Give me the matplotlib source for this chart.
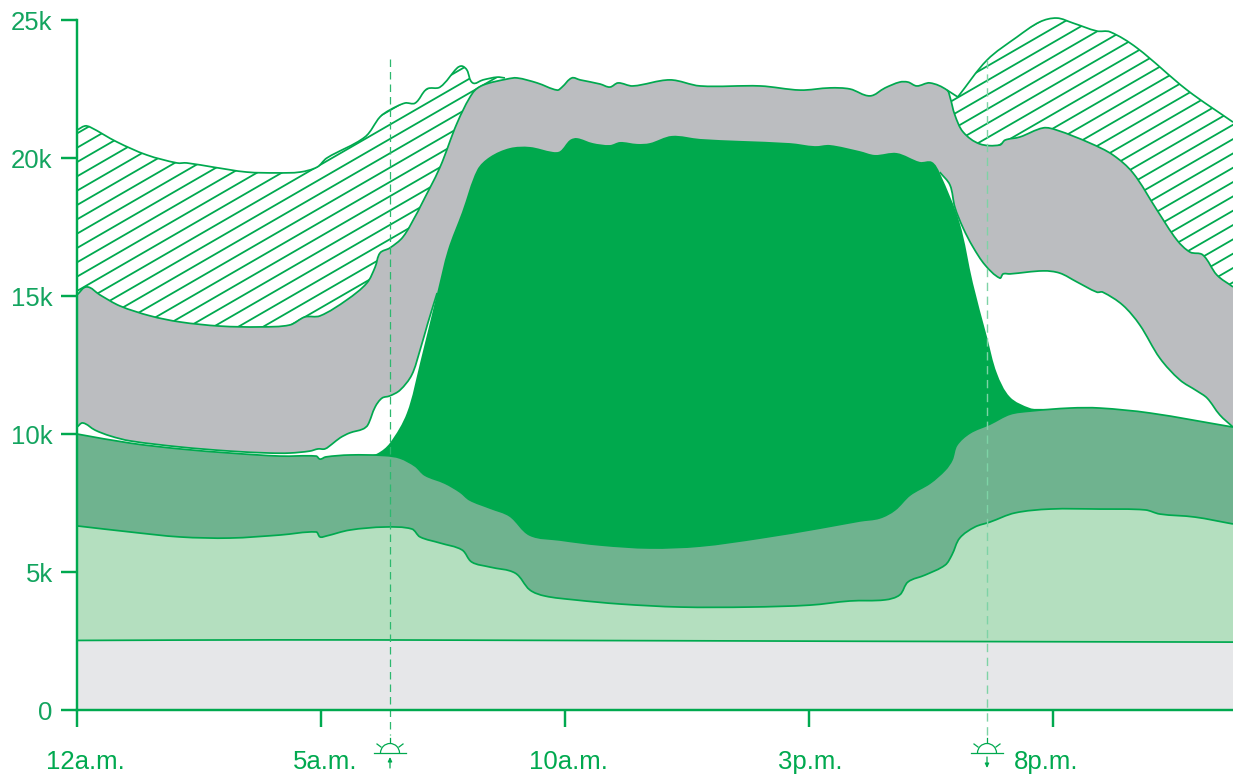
from matplotlib import pyplot as plt
from matplotlib.patches import Arc, PathPatch
from matplotlib.path import Path
from matplotlib.transforms import ScaledTranslation
import numpy as np

GREEN = "#00A94F"
TEXT_GREEN = "#13A45F"

# hours since midnight, thousands
base_h = [0, 4, 8, 16, 23.69]
base_v = [2.52, 2.54, 2.53, 2.49, 2.46]

a_h = [0, 1.09, 2.11, 3.14, 4.16, 4.90, 4.98, 5.10, 5.59, 6.31, 6.86, 7.03, 7.44, 7.89, 8.09, 8.46, 8.98, 9.28, 9.59,
       10.2, 11.13, 12.36, 13.79, 15.02, 15.84, 16.56, 16.86, 17.03, 17.38, 17.79, 17.93, 18.09, 18.40, 18.71, 19.22,
       19.94, 20.96, 21.89, 22.19, 22.91, 23.69]
a_v = [6.67, 6.45, 6.27, 6.23, 6.34, 6.45, 6.27, 6.30, 6.52, 6.63, 6.56, 6.27, 6.05, 5.80, 5.36, 5.18, 4.96, 4.35, 4.13,
       3.99, 3.84, 3.73, 3.73, 3.80, 3.95, 3.99, 4.17, 4.64, 4.89, 5.25, 5.62, 6.23, 6.63, 6.81, 7.14,
       7.28, 7.28, 7.25, 7.10, 6.99, 6.74]

b_h = [0, 1.09, 2.11, 3.14, 4.16, 4.90, 4.98, 5.10, 5.59, 6.31, 6.62, 6.93, 7.13, 7.54, 7.85, 8.05, 8.46, 8.87, 9.28,
       9.90, 10.72, 11.74, 12.77, 14.0, 15.23, 16.04, 16.45, 16.76, 17.07, 17.48, 17.79, 17.93, 18.03, 18.30, 18.71,
       19.12, 19.53, 20.35, 20.96, 21.99, 23.69]
b_v = [10.0, 9.67, 9.46, 9.31, 9.2, 9.2, 9.09, 9.17, 9.24, 9.22, 9.13, 8.84, 8.51, 8.22, 7.90, 7.61, 7.32, 7.03, 6.34,
       6.16, 5.98, 5.87, 5.94, 6.23, 6.59, 6.85, 6.96, 7.25, 7.79, 8.22, 8.70, 9.06, 9.60, 10.04, 10.36,
       10.72, 10.83, 10.94, 10.94, 10.76, 10.25]

solar_h = [5.9, 6.15, 6.41, 6.76, 7.03, 7.38, 7.60, 7.89, 8.20, 8.46, 8.87, 9.28, 9.75, 9.90, 10.10, 10.25, 10.57, 10.92,
           11.13, 11.48, 11.74, 12.19, 12.77, 13.59, 14.61, 15.12, 15.43, 16.04, 16.35, 16.80, 17.27, 17.52, 17.68,
           18.09, 18.36, 18.65, 18.85, 19.12, 19.53, 19.77, 20.2]
solar_v = [9.2, 9.29, 9.67, 10.76, 12.57, 15.11, 16.67, 18.04, 19.57, 20.04, 20.36, 20.40, 20.22, 20.25, 20.65, 20.72,
           20.54, 20.47, 20.58, 20.51, 20.54, 20.80, 20.69, 20.62, 20.54, 20.43, 20.47, 20.25, 20.11, 20.18, 19.86,
           19.86, 19.46, 17.64, 15.47, 13.51, 12.21, 11.34, 10.94, 10.91, 10.9]

low_left_h = [0, 0.12, 0.37, 0.68, 1.09, 2.11, 3.14, 3.95, 4.36, 4.77, 4.94, 5.08, 5.23, 5.39, 5.59, 5.86, 5.96, 6.11,
              6.25, 6.41, 6.62, 6.86, 7.03, 7.19, 7.38]
low_left_v = [10.25, 10.40, 10.14, 9.93, 9.75, 9.53, 9.38, 9.31, 9.31, 9.38, 9.46, 9.46, 9.64, 9.86, 10.04, 10.18,
              10.33, 10.98, 11.30, 11.38, 11.59, 12.14, 13.04, 14.02, 15.11]

low_right_h = [17.68, 17.89, 17.99, 18.16, 18.36, 18.61, 18.91, 18.98, 19.12, 19.80, 20.14, 20.49, 20.90, 21.02, 21.43,
               21.78, 22.19, 22.60, 22.95, 23.16, 23.42, 23.69]
low_right_v = [19.49, 19.02, 18.22, 17.46, 16.78, 16.12, 15.65, 15.80, 15.80, 15.91, 15.83, 15.51, 15.14, 15.14, 14.67,
               13.95, 12.75, 11.96, 11.56, 11.30, 10.69, 10.25]

top_h = [0, 0.20, 0.47, 0.88, 1.50, 2.11, 2.93, 3.75, 4.36, 4.67, 4.98, 5.53, 5.94, 6.11, 6.21, 6.41, 6.68, 6.97, 7.03,
         7.44, 7.79, 8.11, 8.32, 8.81, 9.02, 9.43, 9.84, 9.94, 10.14, 10.31, 10.72, 10.92, 11.09, 11.39, 12.15, 12.77,
         14.0, 14.82, 15.43, 15.84, 16.25, 16.56, 16.86, 17.03, 17.21, 17.48, 17.83, 17.89, 17.99, 18.16, 18.50, 18.91,
         19.02, 19.32, 19.80, 20.08, 20.76, 21.23, 21.64, 22.13, 22.54, 22.81, 23.07, 23.36, 23.69]
top_v = [15.04, 15.33, 15.04, 14.64, 14.28, 14.06, 13.91, 13.88, 13.95, 14.24, 14.28, 14.86, 15.47, 16.05, 16.56, 16.74,
         17.14, 18.01, 18.22, 19.67, 21.27, 22.36, 22.64, 22.86, 22.90, 22.72, 22.46, 22.57, 22.90, 22.83, 22.68, 22.57,
         22.72, 22.61, 22.83, 22.61, 22.61, 22.46, 22.54, 22.50, 22.25, 22.54, 22.75, 22.75, 22.61, 22.72, 22.46, 22.21,
         21.56, 20.94, 20.51, 20.47, 20.65, 20.76, 21.09, 21.01, 20.54, 20.11, 19.46, 18.12, 17.03, 16.59, 16.49, 15.76,
         15.33]

peak_left_h = [0, 0.16, 0.27, 0.82, 1.43, 2.05, 2.25, 2.79, 3.48, 4.10, 4.57, 4.92, 5.12, 5.90, 6.21, 6.41, 6.72, 6.93,
               7.17, 7.44, 7.79, 7.89, 7.99, 8.11, 8.32, 8.61, 8.77]
peak_left_v = [21.01, 21.16, 21.12, 20.58, 20.11, 19.82, 19.82, 19.67, 19.49, 19.46, 19.49, 19.67, 20.0, 20.76, 21.49,
               21.74, 21.99, 21.99, 22.5, 22.57, 23.26, 23.33, 23.19, 22.72, 22.83, 22.93, 22.90]

# 18.05 twice: the curve turns sharply there
peak_right_h = [17.83, 18.05, 18.05, 18.65, 19.26, 19.73, 20.08, 20.41, 20.90, 21.17, 21.72, 22.75, 23.69]
peak_right_v = [22.46, 22.21, 22.21, 23.55, 24.38, 24.93, 25.07, 24.89, 24.6, 24.57, 23.99, 22.46, 21.3]

tick_hours = [0, 5, 10, 15, 20]
tick_names = ["12a.m.", "5a.m.", "10a.m.", "3p.m.", "8p.m."]
y_ticks = [0, 5, 10, 15, 20, 25]
y_names = ["0", "5k", "10k", "15k", "20k", "25k"]
sunrise = 6.41
sunset = 18.65

plt.rcParams["font.family"] = ["Liberation Sans", "DejaVu Sans"]

fig = plt.figure(figsize=(12.33, 7.77), dpi=100)
ax = fig.add_axes([77 / 1233, 67 / 777, 1156 / 1233, 690 / 777])
ax.set_xlim(0, 23.69)
ax.set_ylim(0, 25)


def segments(h, v):
    # bezier pieces through the read points, tangents scaled in screen-like units
    p = np.column_stack([np.asarray(h, float) * 48.8, np.asarray(v, float) * 27.6])
    t = np.zeros_like(p)
    t[1:-1] = p[2:] - p[:-2]
    t[0] = p[1] - p[0]
    t[-1] = p[-1] - p[-2]
    # a repeated point is a corner: each side keeps its own direction
    for i in range(1, len(p) - 1):
        if np.all(p[i] == p[i + 1]):
            t[i] = p[i] - p[i - 1]
        elif np.all(p[i] == p[i - 1]):
            t[i] = p[i + 1] - p[i]
    t = t / np.linalg.norm(t, axis=1, keepdims=True)
    verts = []
    for i in range(len(p) - 1):
        d = np.linalg.norm(p[i + 1] - p[i]) / 3
        verts += [p[i] + t[i] * d, p[i + 1] - t[i + 1] * d, p[i + 1]]
    verts = np.array(verts) / [48.8, 27.6]
    return p[0] / [48.8, 27.6], verts


def curve_path(h, v):
    start, verts = segments(h, v)
    return Path(np.vstack([start, verts]), [Path.MOVETO] + [Path.CURVE4] * len(verts))


def ring_path(*curves):
    # closed outline made of several curves in a row
    all_verts, codes = [], []
    for i, (h, v) in enumerate(curves):
        start, verts = segments(h, v)
        all_verts += [start] + list(verts)
        codes += [Path.MOVETO if i == 0 else Path.LINETO] + [Path.CURVE4] * len(verts)
    all_verts.append(all_verts[0])
    codes.append(Path.CLOSEPOLY)
    return Path(np.array(all_verts), codes)


def area(h, v, color, z):
    # everything from the curve down to the axis, later layers paint over it
    floor = ([h[-1], h[0]], [0, 0])
    ax.add_patch(PathPatch(ring_path((h, v), floor), facecolor=color, lw=0, zorder=z))


top_h_arr = np.array(top_h)
top_v_arr = np.array(top_v)

# hatched parts between the top curve and the peaks
for h, v, mask in [(peak_left_h, peak_left_v, top_h_arr <= peak_left_h[-1]),
                   (peak_right_h, peak_right_v, top_h_arr >= peak_right_h[0])]:
    poly = PathPatch(ring_path((h, v), (top_h_arr[mask][::-1], top_v_arr[mask][::-1])),
                     facecolor="white", lw=0, zorder=1, clip_on=False)
    ax.add_patch(poly)
    for k in range(-2, 62):
        start = 20.89 - 0.519 * k
        ln, = ax.plot([0, 23.69], [start, start + 1.021 * 23.69], color=GREEN, lw=1.3, zorder=2)
        ln.set_clip_path(poly)

# grey band, lower edge runs behind the solar block
ax.add_patch(PathPatch(ring_path((top_h, top_v), (low_right_h[::-1], low_right_v[::-1]),
                                 (low_left_h[::-1], low_left_v[::-1])),
                       facecolor="#BBBDC0", lw=0, zorder=3))
area(solar_h, solar_v, "#00A94D", 4)
area(b_h, b_v, "#6FB38F", 5)
area(a_h, a_v, "#B4DFBF", 6)
area(base_h, base_v, "#E6E7E9", 7)

for h, v, z in [(peak_left_h, peak_left_v, 3.5), (peak_right_h, peak_right_v, 3.5), (top_h, top_v, 3.5),
                (low_left_h, low_left_v, 3.5), (low_right_h, low_right_v, 3.5),
                (b_h, b_v, 5.5), (a_h, a_v, 6.5), (base_h, base_v, 7.5)]:
    ax.add_patch(PathPatch(curve_path(h, v), facecolor="none", edgecolor=GREEN, lw=1.25, zorder=z, clip_on=False))

# sunrise and sunset
ax.plot([sunrise, sunrise], [23.6, -0.9], color="#2DB86F", lw=0.9, ls=(0, (6, 4)), clip_on=False, zorder=8)
ax.plot([sunset, sunset], [23.55, -0.9], color="#7ED3A6", lw=1.0, ls=(0, (6, 4)), clip_on=False, zorder=8)

ax.spines["top"].set_visible(False)
ax.spines["right"].set_visible(False)
for side in ["left", "bottom"]:
    ax.spines[side].set_color(GREEN)
    ax.spines[side].set_linewidth(1.75)
    ax.spines[side].set_zorder(9)

ax.set_xticks(tick_hours, tick_names)
ax.set_yticks(y_ticks, y_names)
ax.tick_params(axis="x", length=12, width=1.75, color=GREEN, labelcolor=GREEN, labelsize=18.5, pad=17)
ax.tick_params(axis="y", length=11.5, width=1.75, color=GREEN, labelcolor=TEXT_GREEN, labelsize=18.5, pad=6)

for lab, dx in zip(ax.get_xticklabels(), [8, 4, 3, 1, -7]):
    lab.set_transform(lab.get_transform() + ScaledTranslation(dx / 100, 0, fig.dpi_scale_trans))

# sun icons, drawn in figure pixels
px = fig.add_axes([0, 0, 1, 1])
px.set_xlim(0, 1233)
px.set_ylim(777, 0)
px.axis("off")
for cx, up in [(390, True), (987, False)]:
    px.plot([cx - 16, cx + 16], [753, 753], color=GREEN, lw=0.9)
    px.add_patch(Arc((cx, 753), 19, 19, theta1=180, theta2=360, color=GREEN, lw=0.9))
    px.plot([cx, cx], [738, 742], color=GREEN, lw=0.9)
    px.plot([cx - 13, cx - 9], [744, 747], color=GREEN, lw=0.9)
    px.plot([cx + 13, cx + 9], [744, 747], color=GREEN, lw=0.9)
    tail, head = (768, 757) if up else (757, 768)
    px.annotate("", xy=(cx, head), xytext=(cx, tail),
                arrowprops=dict(arrowstyle="-|>,head_width=0.12,head_length=0.25", color=GREEN, lw=0.9,
                                shrinkA=0, shrinkB=0))

fig.savefig("out.png", dpi=100)
